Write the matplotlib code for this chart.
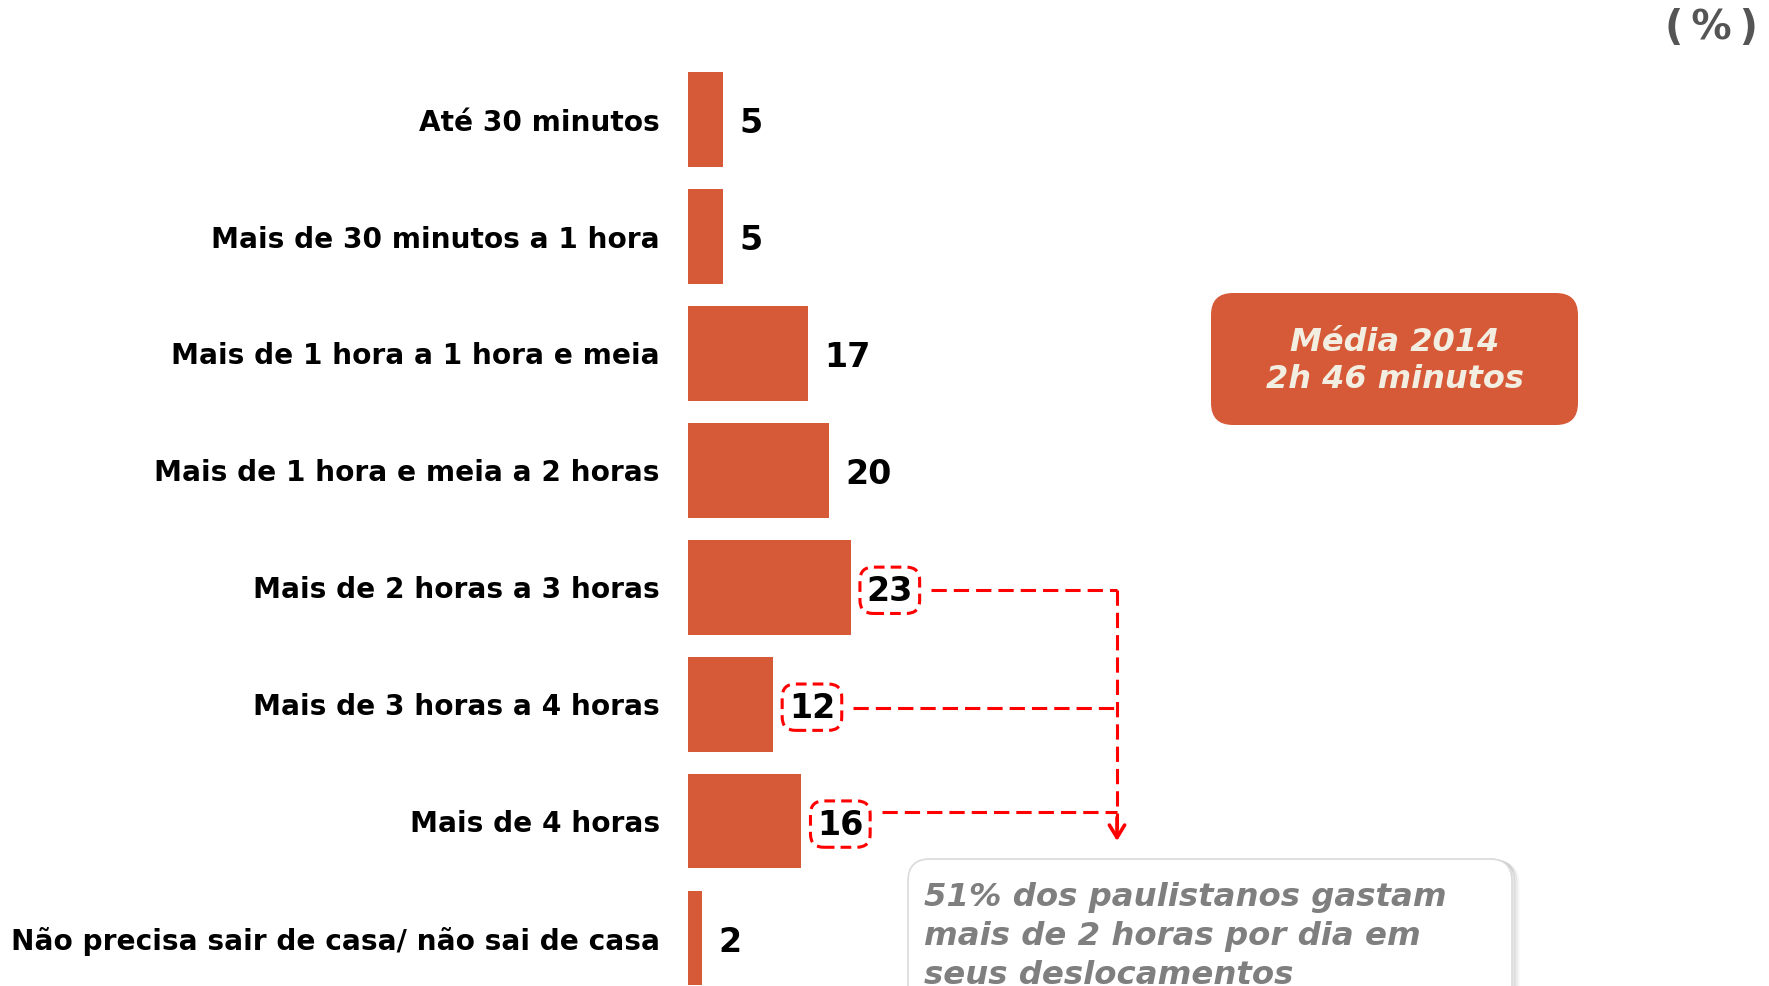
import matplotlib
matplotlib.use("Agg")
import matplotlib.pyplot as plt
from matplotlib.patches import FancyBboxPatch

categories = [
    "Até 30 minutos",
    "Mais de 30 minutos a 1 hora",
    "Mais de 1 hora a 1 hora e meia",
    "Mais de 1 hora e meia a 2 horas",
    "Mais de 2 horas a 3 horas",
    "Mais de 3 horas a 4 horas",
    "Mais de 4 horas",
    "Não precisa sair de casa/ não sai de casa",
]
values = [5, 5, 17, 20, 23, 12, 16, 2]
highlighted = [4, 5, 6]
unit_label = "(\u2009%\u2009)"
media_text = "Média 2014\n2h 46 minutos"
note_text = "51% dos paulistanos gastam\nmais de 2 horas por dia em\nseus deslocamentos"

BAR = "#D65A38"
W, H = 1769, 987
fig = plt.figure(figsize=(W / 100, H / 100), dpi=100)
fig.patch.set_facecolor("white")

# bar axes: x origin at pixel 688, 7.07 px per unit
x0 = 688
ppu = 7.07
xmax = 100
ax = fig.add_axes([x0 / W, 0, xmax * ppu / W, 1])
ax.set_xlim(0, xmax)
top_c, step = 120.7, 116.9
ax.set_ylim((H - top_c) / step, -top_c / step)
ax.axis("off")

ypos = list(range(len(categories)))
ax.barh(ypos, values, height=0.81, color=BAR, edgecolor="none")

for i, (c, v) in enumerate(zip(categories, values)):
    ax.annotate(c, xy=(0, i), xytext=(-28, -2), textcoords="offset pixels",
                ha="right", va="center", fontsize=20.2, fontweight="bold",
                family="DejaVu Sans", color="black")
    kw = dict(xy=(v, i), xytext=(16, -3), textcoords="offset pixels",
              ha="left", va="center", fontsize=24, fontweight="bold",
              color="black")
    if i in highlighted:
        kw["bbox"] = dict(boxstyle="round,pad=0.2,rounding_size=0.4", fc="none",
                          ec="#FF0000", lw=2.2, ls=(0, (3.5, 2)))
    ax.annotate(str(v), **kw)

# dashed connectors
x_join = (1117 - x0) / ppu
dash = dict(color="#FF0000", lw=2.2, ls=(0, (5, 2.3)))
offs = {4: 0.02, 5: 0.03, 6: -0.08}
for i in highlighted:
    ys = i + offs[i]
    ax.plot([values[i] + 11.4, x_join], [ys, ys], **dash)
y_tip = (842 - top_c) / step
ax.plot([x_join, x_join], [highlighted[0] + offs[4], y_tip - 0.1], **dash)
ax.annotate("", xy=(x_join, y_tip), xytext=(x_join, y_tip - 0.2),
            arrowprops=dict(arrowstyle="->,head_length=0.9,head_width=0.55",
                            color="#FF0000", lw=2.6, shrinkA=0, shrinkB=0))

# overlay axes in pixel coordinates for decorations
ov2 = fig.add_axes([0, 0, 1, 1], zorder=5)
ov2.set_xlim(0, W)
ov2.set_ylim(H, 0)
ov2.axis("off")

ov2.text(1758, 28, unit_label, ha="right", va="center", fontsize=29,
         fontweight="bold", color="#555555")

# orange box
ov2.add_patch(FancyBboxPatch((1211, 294), 367, 132,
                             boxstyle="round,pad=0,rounding_size=22",
                             fc=BAR, ec="none"))
ov2.text(1395, 361, media_text, ha="center", va="center", fontsize=23,
         fontweight="bold", fontstyle="italic", color="#F2EEE2",
         linespacing=1.25)

# gray note box with shadow
for k, a in enumerate([0.10, 0.07, 0.04]):
    ov2.add_patch(FancyBboxPatch((908 + 2 + 2 * k, 860 + 1 + k), 604, 180,
                                 boxstyle="round,pad=0,rounding_size=22",
                                 fc="none", ec=(0, 0, 0, a), lw=2))
ov2.add_patch(FancyBboxPatch((908, 860), 604, 180,
                             boxstyle="round,pad=0,rounding_size=22",
                             fc="white", ec="#DADADA", lw=1.2))
ov2.text(924, 882, note_text, ha="left", va="top", fontsize=23.3,
         fontweight="bold", fontstyle="italic", color="#7F7F7F",
         linespacing=1.33)

fig.savefig("out.png", dpi=100, facecolor="white")
